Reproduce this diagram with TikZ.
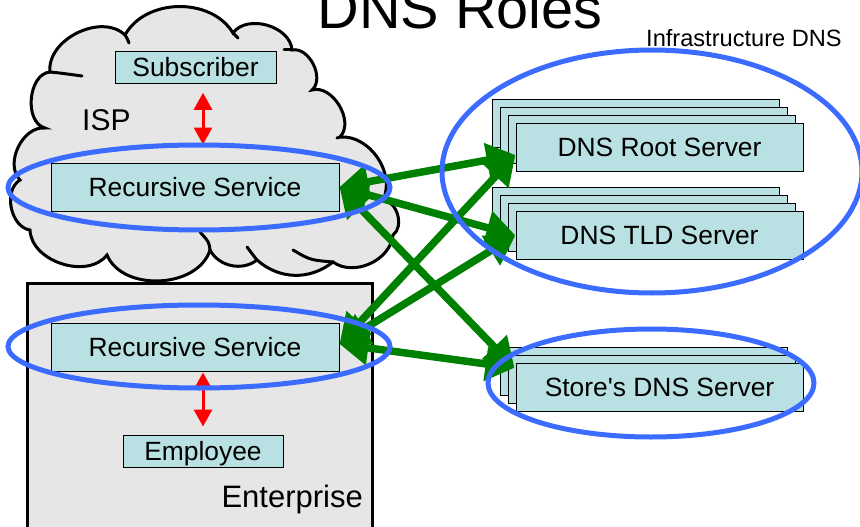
\documentclass[tikz,border=0pt]{standalone}
\usepackage{fontspec}
\setmainfont{Liberation Sans}
\usetikzlibrary{arrows.meta,calc}
\definecolor{boxfill}{RGB}{185,224,227}
\definecolor{cloudgray}{RGB}{230,230,230}
\definecolor{ringblue}{RGB}{60,108,255}
\definecolor{linkgreen}{RGB}{0,128,0}

\begin{document}
\begin{tikzpicture}[x=1pt,y=-1pt,
  every node/.style={font=\fontsize{26.4}{30}\selectfont},
  labelbox/.style={draw=black,line width=1pt,fill=boxfill,inner sep=0pt,
    text height=18.9pt,text depth=0pt},
  srvbox/.style={labelbox,minimum width=287pt,minimum height=48.3pt},
  layerbox/.style={draw=black,line width=1pt,fill=boxfill},
  plain/.style={inner sep=0pt},
  ring/.style={draw=ringblue,line width=5pt},
  query/.style={draw=linkgreen,line width=7.5pt,
    {Triangle[length=29pt,width=33pt]}-{Triangle[length=29pt,width=33pt]}},
  access/.style={draw=red,line width=3pt,
    {Triangle[length=17pt,width=18pt]}-{Triangle[length=17pt,width=18pt]}},
  cloudline/.style={draw=black,line width=3pt,fill=cloudgray},
  hook/.style={draw=black,line width=3pt,line cap=round},
]
\useasboundingbox (0,0) rectangle (860,527);
\clip (0,0) rectangle (860,527);

% ISP cloud: outline of overlapping puffs
\path[cloudline] (50,72) to[bend left=70] (125,35) to[bend left=60] (233,33)
  to[bend left=70] (292,50) to[bend left=75] (312,90) to[bend left=75] (340,137)
  to[bend left=60] (383,200) to[bend left=70] (393,235) to[bend left=60] (333,262)
  to[bend left=40] (257,260) to[bend left=50] (210,250) to[bend left=70] (107,255)
  to[bend left=70] (30,230) to[bend left=70] (20,180) to[bend left=70] (45,128)
  to[bend left=80] (50,72) -- cycle;
% inner ends of the puffs
\path[hook] (50,72) .. controls (60,73) .. (82,76);
\path[hook] (125,35) .. controls (127,38) .. (129,43);
\path[hook] (233,33) .. controls (235,35) .. (238,38);
\path[hook] (292,50) .. controls (289,50) .. (284,50);
\path[hook] (340,137) .. controls (339,137) .. (337,138);
\path[hook] (210,250) .. controls (209,242) .. (200,232);
\path[hook] (257,260) .. controls (253,255) .. (247,247);
\path[hook] (333,262) .. controls (310,260) .. (293,250);

% Enterprise
\draw[line width=3pt,fill=cloudgray] (27,283) rectangle (372,545);

% Server stacks
\foreach \k in {3,2,1} {
  \draw[layerbox] (516-8*\k,123.3-8*\k) rectangle ++(287,48.3);
  \draw[layerbox] (516-8*\k,211.3-8*\k) rectangle ++(287,48.3);
}
\foreach \k in {2,1}
  \draw[layerbox] (516-8*\k,363.3-8*\k) rectangle ++(287,48);

\node[srvbox] (root) at (659.5,147.45) {DNS Root Server};
\node[srvbox] (tld) at (659.5,235.45) {DNS TLD Server};
\node[srvbox,minimum height=48pt] (store) at (659.5,387.3) {Store\textquotesingle s DNS Server};

% Clients and resolvers
\node[labelbox,minimum width=161pt,minimum height=31.5pt] (sub) at (195.5,67.5) {Subscriber};
\node[labelbox,minimum width=288pt,minimum height=48pt] (isprec) at (195,187) {Recursive Service};
\node[labelbox,minimum width=288pt,minimum height=48pt] (entrec) at (195,347) {Recursive Service};
\node[labelbox,minimum width=160pt,minimum height=32pt] (emp) at (203,451) {Employee};

% Queries to the DNS infrastructure
\draw[query] (isprec.east) -- ([yshift=-7.5pt]root.west);
\draw[query] (isprec.east) -- (tld.west);
\draw[query] (isprec.east) -- ([xshift=-1pt,yshift=-5pt]store.north west);
\draw[query] ([yshift=3pt]entrec.east) -- ([yshift=-7.5pt]root.west);
\draw[query] ([yshift=3pt]entrec.east) -- (tld.west);
\draw[query] ([yshift=3pt]entrec.east) -- ([xshift=-1pt,yshift=-5pt]store.north west);

% Local access
\draw[access] ([xshift=7.5pt,yshift=-9pt]sub.south) -- ([xshift=8pt,yshift=18pt]isprec.north);
\draw[access] ([xshift=8pt,yshift=-1pt]entrec.south) -- ([yshift=8pt]emp.north);

% Role rings
\draw[ring] (199,187.5) ellipse [x radius=191, y radius=42.5];
\draw[ring] (199,346.5) ellipse [x radius=191, y radius=41.5];
\draw[ring] (652,171.5) ellipse [x radius=210, y radius=121.5];
\draw[ring] (651,383) ellipse [x radius=163, y radius=54];

% Labels
\node[plain,anchor=base,font=\fontsize{57.6}{60}\selectfont] (title) at (460,29) {DNS Roles};
\node[plain,anchor=base west,font=\fontsize{30}{32}\selectfont] (isp) at (82,130) {ISP};
\node[plain,anchor=base east,font=\fontsize{31}{33}\selectfont] (ent) at (363,507) {Enterprise};
\node[plain,anchor=base west,font=\fontsize{23.6}{26}\selectfont] (infra) at (646,47) {Infrastructure DNS};
\end{tikzpicture}
\end{document}
